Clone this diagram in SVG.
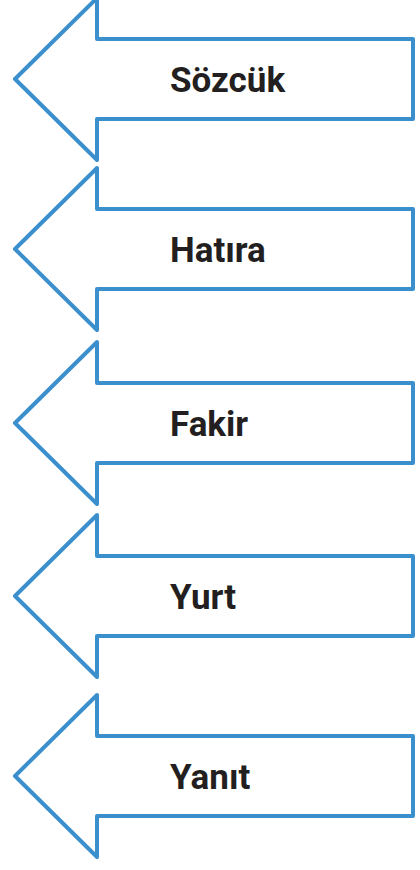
<svg xmlns="http://www.w3.org/2000/svg" width="420" height="870" viewBox="0 0 420 870">
<style>
.arrow{fill:#fff;stroke:#3b8fcd;stroke-width:4;stroke-linejoin:round}
.lbl{font-family:"Roboto","Liberation Sans",sans-serif;font-weight:bold;font-size:35px;fill:#231f20}
</style>
<rect width="420" height="870" fill="#fff"/>
<g id="arrow1" transform="translate(0,79)">
<path class="arrow" d="M97,-81 L15,0 L97,81 L97,40 L413,40 L413,-40 L97,-40 Z"/>
<text class="lbl" x="170" y="13">Sözcük</text>
</g>
<g id="arrow2" transform="translate(0,249)">
<path class="arrow" d="M97,-81 L15,0 L97,81 L97,40 L413,40 L413,-40 L97,-40 Z"/>
<text class="lbl" x="170" y="13">Hatıra</text>
</g>
<g id="arrow3" transform="translate(0,423)">
<path class="arrow" d="M97,-81 L15,0 L97,81 L97,40 L413,40 L413,-40 L97,-40 Z"/>
<text class="lbl" x="170" y="13">Fakir</text>
</g>
<g id="arrow4" transform="translate(0,596)">
<path class="arrow" d="M97,-81 L15,0 L97,81 L97,40 L413,40 L413,-40 L97,-40 Z"/>
<text class="lbl" x="170" y="13">Yurt</text>
</g>
<g id="arrow5" transform="translate(0,776)">
<path class="arrow" d="M97,-81 L15,0 L97,81 L97,40 L413,40 L413,-40 L97,-40 Z"/>
<text class="lbl" x="170" y="13">Yanıt</text>
</g>
</svg>
